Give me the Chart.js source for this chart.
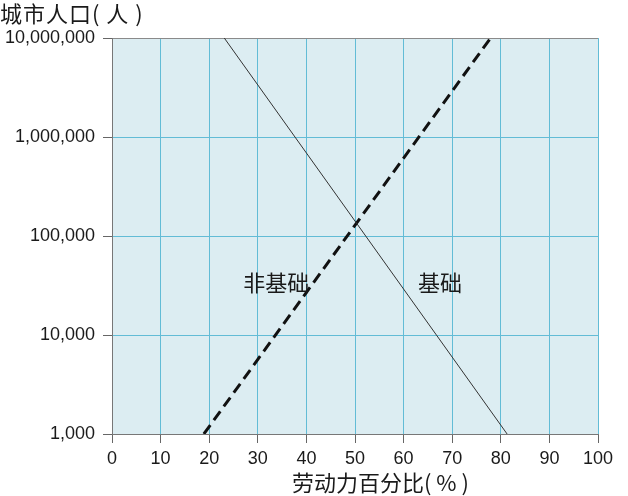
<!DOCTYPE html>
<html>
<head>
<meta charset="utf-8">
<script src="https://cdn.jsdelivr.net/npm/chart.js@4"></script>
<style>
  html, body { margin: 0; padding: 0; background: #fff; }
  #wrap { position: relative; width: 628px; height: 496px; }
  .title { position: absolute; font: 22px "Noto Sans CJK SC", sans-serif; color: #1a1a1a; line-height: 26px; white-space: nowrap; }
  #yTitle { left: 0; top: -1px; letter-spacing: 1px; }
  #xTitle { left: 292px; top: 468px; }
</style>
</head>
<body>
<div id="wrap">
  <canvas id="chart" width="628" height="496"></canvas>
  <div id="yTitle" class="title">城市人口( 人 )</div>
  <div id="xTitle" class="title">劳动力百分比( % )</div>
</div>
<script>
const xTicks = [0, 10, 20, 30, 40, 50, 60, 70, 80, 90, 100];
const yTicks = [1000, 10000, 100000, 1000000, 10000000];

// 基础 (solid) and 非基础 (dashed) lines
const basicX = [23.1, 81.3];
const basicY = [10000000, 1000];
const nonBasicX = [18.9, 77.9];
const nonBasicY = [1000, 10000000];

const noteText = ['非基础', '基础'];
const noteX = [33.8, 67.5];
const noteY = [34000, 34000];

const toPoints = (xs, ys) => xs.map((x, i) => ({ x, y: ys[i] }));

const plotBg = {
  id: 'plotBg',
  beforeDraw(chart) {
    const { ctx, chartArea: a } = chart;
    ctx.save();
    ctx.fillStyle = '#dcedf2';
    ctx.fillRect(a.left, a.top, a.right - a.left, a.bottom - a.top);
    ctx.restore();
  }
};

const notes = {
  id: 'notes',
  afterDatasetsDraw(chart) {
    const { ctx, scales } = chart;
    ctx.save();
    ctx.font = '22px "Noto Sans CJK SC", sans-serif';
    ctx.fillStyle = '#1a1a1a';
    ctx.textAlign = 'center';
    ctx.textBaseline = 'middle';
    noteText.forEach((t, i) => {
      ctx.fillText(t, scales.x.getPixelForValue(noteX[i]), scales.y.getPixelForValue(noteY[i]));
    });
    ctx.restore();
  }
};

new Chart(document.getElementById('chart'), {
  type: 'scatter',
  data: {
    datasets: [{
      label: '基础',
      data: toPoints(basicX, basicY),
      showLine: true,
      borderColor: '#333',
      borderWidth: 1,
      pointRadius: 0
    }, {
      label: '非基础',
      data: toPoints(nonBasicX, nonBasicY),
      showLine: true,
      borderColor: '#111',
      borderWidth: 3,
      borderDash: [11, 6],
      pointRadius: 0
    }]
  },
  options: {
    responsive: false,
    animation: false,
    layout: { padding: { top: 38, right: 30, left: 0, bottom: 0 } },
    plugins: { legend: { display: false }, tooltip: { enabled: false } },
    scales: {
      x: {
        type: 'linear',
        min: 0,
        max: 100,
        afterBuildTicks: s => { s.ticks = xTicks.map(v => ({ value: v })); },
        afterFit: s => { s.height = 62; },
        ticks: { color: '#1a1a1a', padding: 5, font: { family: 'Liberation Sans', size: 18 } },
        grid: {
          color: c => (c.tick && c.tick.value === 0 ? '#8a8a8a' : '#62bcd6'),
          tickColor: '#666',
          tickLength: 9,
          lineWidth: 1
        },
        border: { color: '#777', width: 1 }
      },
      y: {
        type: 'logarithmic',
        min: 1000,
        max: 10000000,
        afterBuildTicks: s => { s.ticks = yTicks.map(v => ({ value: v })); },
        afterFit: s => { s.width = 112; },
        ticks: {
          color: '#1a1a1a',
          padding: 8,
          font: { family: 'Liberation Sans', size: 18 },
          callback: v => Number(v).toLocaleString('en-US')
        },
        grid: {
          color: c => (c.tick && (c.tick.value === 10000000 || c.tick.value === 1000) ? '#8a8a8a' : '#62bcd6'),
          tickColor: '#666',
          tickLength: 9,
          lineWidth: 1
        },
        border: { color: '#777', width: 1 }
      }
    }
  },
  plugins: [plotBg, notes]
});
</script>
</body>
</html>
